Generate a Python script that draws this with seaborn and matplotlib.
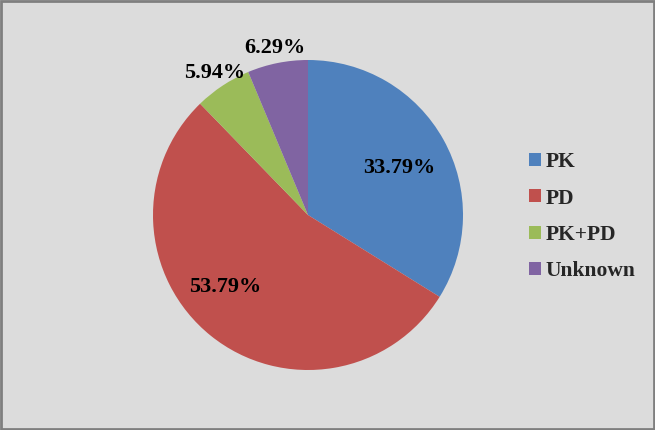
import matplotlib
matplotlib.use("Agg")
import numpy as np
import matplotlib.pyplot as plt
import seaborn as sns
from matplotlib.patches import Rectangle

# Chart data
categories = ["PK", "PD", "PK+PD", "Unknown"]
shares = [33.79, 53.79, 5.94, 6.29]
labels = ["33.79%", "53.79%", "5.94%", "6.29%"]
colors = sns.color_palette(["#4F81BD", "#C0504D", "#9BBB59", "#8064A2"])

sns.set_theme(style="white")
plt.rcParams["font.family"] = ["Liberation Serif", "DejaVu Serif"]

fig = plt.figure(figsize=(6.55, 4.30), dpi=100)
fig.patch.set_facecolor("#dcdcdc")

# square axes holding the pie
ax = fig.add_axes([153 / 655, 60 / 430, 310 / 655, 310 / 430])
ax.set_facecolor("none")

wedges, _ = ax.pie(shares, colors=colors, startangle=90, counterclock=False,
                   radius=1, wedgeprops=dict(linewidth=0))

# percentage labels: inside for the big slices, outside for the small ones
dists = [0.66, 0.71, 1.1, 1.1]
shift = [-2, -10, 0, 0]  # small angle nudges, degrees
for w, lab, d, s in zip(wedges, labels, dists, shift):
    ang = np.deg2rad((w.theta1 + w.theta2) / 2 + s)
    ax.text(d * np.cos(ang), d * np.sin(ang), lab, ha="center", va="center",
            fontsize=16, fontweight="bold", color="black")

ax.set_xlim(-1, 1)
ax.set_ylim(-1, 1)
ax.axis("off")

leg = fig.legend(wedges, categories, loc="upper left",
                 bbox_to_anchor=(510 / 655, 1 - 133 / 430), frameon=False,
                 prop=dict(size=15.5, weight="bold"), handlelength=0.55,
                 handleheight=0.55, handletextpad=0.2, labelspacing=0.75)

# grey border around the figure
fig.patches.append(Rectangle((0.002, 0.003), 0.996, 0.994, transform=fig.transFigure,
                             fill=False, edgecolor="#7f7f7f", linewidth=2))

fig.savefig("out.png", dpi=100, facecolor=fig.get_facecolor())
